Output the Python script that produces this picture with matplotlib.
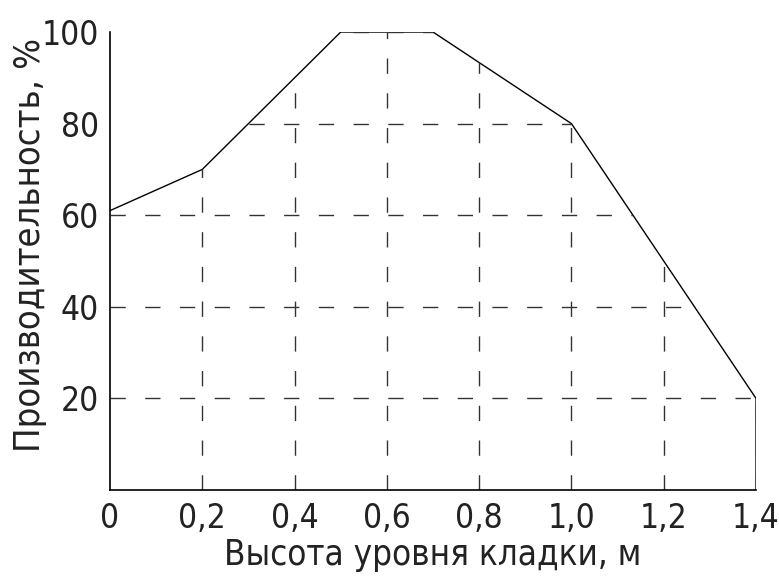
import numpy as np
import matplotlib.pyplot as plt
from matplotlib.patches import Polygon

plt.rcParams['font.family'] = ['DejaVu Sans']
plt.rcParams['font.stretch'] = 'condensed'
plt.rcParams['font.weight'] = 'light'

# высота уровня кладки, м / производительность, %
height = [0, 0.2, 0.5, 0.7, 1.0, 1.4, 1.4]
output = [61, 70, 100, 100, 80, 20, 0]

xticks = [0, 0.2, 0.4, 0.6, 0.8, 1.0, 1.2, 1.4]
xlabels = ['0', '0,2', '0,4', '0,6', '0,8', '1,0', '1,2', '1,4']
yticks = [20, 40, 60, 80, 100]

fig = plt.figure(figsize=(7.79, 5.77), dpi=100)
ax = fig.add_axes([0.1412, 0.1508, 0.8293, 0.7937])

ax.plot(height, output, color='black', lw=1.0)

# сетка только под кривой
area = Polygon(np.column_stack([[0] + height, [0] + output]), closed=True,
			   facecolor='none', edgecolor='none', transform=ax.transData)
ax.add_patch(area)
grid_style = dict(colors='#333333', linewidth=1.0, linestyles=(0, (11, 14)))
hl = ax.hlines(yticks, 0, 1.4, **grid_style)
vl = ax.vlines(xticks[1:], 0, 100, **grid_style)
hl.set_clip_path(area)
vl.set_clip_path(area)

ax.set_xlim(0, 1.4)
ax.set_ylim(0, 100)
ax.set_xticks(xticks)
ax.set_xticklabels(xlabels)
ax.set_yticks(yticks)
ax.tick_params(length=0, labelsize=24, colors='#222222', pad=9)
ax.tick_params(axis='y', pad=8)

for s in ['top', 'right']:
	ax.spines[s].set_visible(False)
for s in ['left', 'bottom']:
	ax.spines[s].set_linewidth(1.2)

ax.set_xlabel('Высота уровня кладки, м', fontsize=25, color='#222222')
ax.set_ylabel('Производительность, %', fontsize=26, color='#222222')
ax.xaxis.set_label_coords(0.5, -0.105)
ax.yaxis.set_label_coords(-0.098, 0.535)

fig.savefig('out.png', dpi=100)
